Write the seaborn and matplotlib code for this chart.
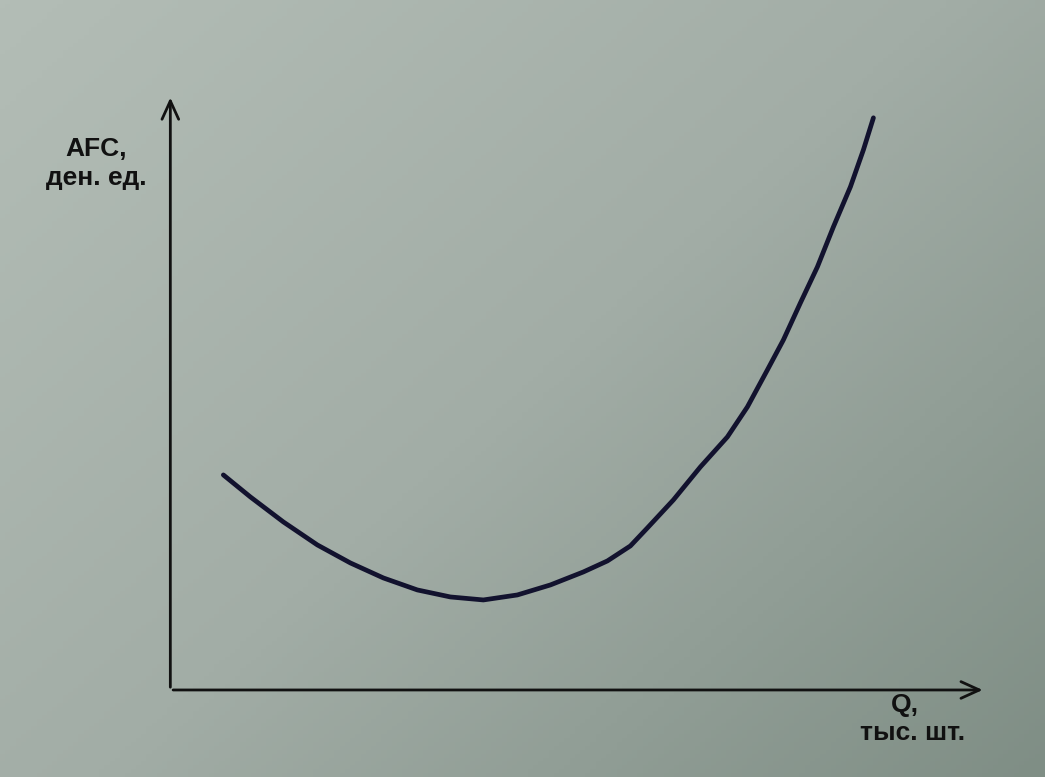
import numpy as np
import pandas as pd
import matplotlib
matplotlib.use("Agg")
import matplotlib.pyplot as plt
import seaborn as sns
from matplotlib.colors import LinearSegmentedColormap

# Data (arbitrary units)
q_values = [0.53, 0.80, 1.13, 1.47, 1.80, 2.13, 2.47, 2.80, 3.13, 3.47, 3.80, 4.13,
            4.37, 4.60, 4.77, 5.03, 5.30, 5.57, 5.77, 5.97, 6.13, 6.30, 6.47, 6.63,
            6.80, 6.93, 7.03]
afc_values = [2.15, 1.93, 1.68, 1.45, 1.27, 1.12, 1.00, 0.93, 0.90, 0.95, 1.05, 1.18,
              1.29, 1.44, 1.62, 1.90, 2.23, 2.53, 2.83, 3.20, 3.50, 3.87, 4.23, 4.63,
              5.03, 5.40, 5.72]
y_label = "AFC,\nден. ед."
x_label_1 = "Q,"
x_label_2 = "тыс. шт."

df = pd.DataFrame({"Q": q_values, "AFC": afc_values})

sns.set_theme(style="white")
plt.rcParams['font.family'] = ['Liberation Sans', 'DejaVu Sans']

fig = plt.figure(figsize=(10.45, 7.77), dpi=100)

# background gradient (screen photo look)
bg = fig.add_axes([0, 0, 1, 1])
yy, xx = np.mgrid[0:1:200j, 0:1:200j]
grad = 0.55 * xx + 0.45 * yy
cmap = LinearSegmentedColormap.from_list("bg", ["#b3bdb6", "#a2ada6", "#7f8e85"])
bg.imshow(grad, cmap=cmap, aspect="auto", extent=[0, 1, 1, 0])
bg.axis("off")

ax = fig.add_axes([0.163, 0.112, 0.78, 0.766])
ax.patch.set_alpha(0)
sns.lineplot(data=df, x="Q", y="AFC", ax=ax, color="#12122e", linewidth=3.4, sort=False)
ax.set_xlim(0, 8.15)
ax.set_ylim(0, 5.95)
for s in ax.spines.values():
    s.set_visible(False)
ax.set_xticks([])
ax.set_yticks([])
ax.set_xlabel("")
ax.set_ylabel("")

arrow_kw = dict(arrowstyle="->,head_length=1.1,head_width=0.5", color="#111111", lw=2)
ax.annotate("", xy=(0, 1.0), xytext=(0, 0), xycoords="axes fraction",
            arrowprops=arrow_kw, annotation_clip=False)
ax.annotate("", xy=(1.0, 0), xytext=(0, 0), xycoords="axes fraction",
            arrowprops=arrow_kw, annotation_clip=False)

fig.text(0.092, 0.79, y_label, ha="center", va="center", fontsize=19,
         color="#111111", linespacing=1.25, fontweight="bold")
fig.text(0.866, 0.093, x_label_1, ha="center", va="center", fontsize=19,
         color="#111111", fontweight="bold")
fig.text(0.873, 0.056, x_label_2, ha="center", va="center", fontsize=19,
         color="#111111", fontweight="bold")

fig.savefig("out.png", dpi=100)
